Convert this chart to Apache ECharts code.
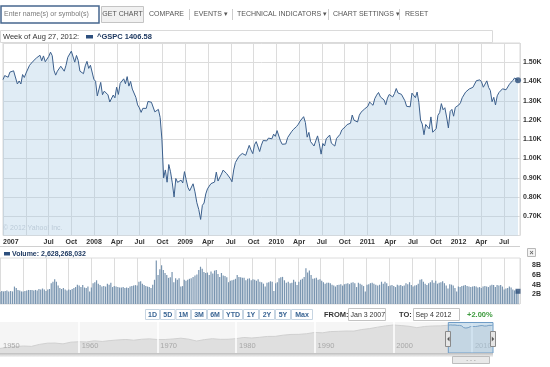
<!DOCTYPE html>
<html><head><meta charset="utf-8">
<script src="https://cdn.jsdelivr.net/npm/echarts@6/dist/echarts.min.js"></script>
<style>html,body{margin:0;padding:0;background:#fff;}#c{width:550px;height:367px;}</style>
</head><body><div id="c"></div>
<script>
// ---- DATA ----
const firstWeek = [2007, 0, 1]; // weekly points, week starting Mon Jan 1 2007
const close2007 = [1409.71,1430.73,1430.50,1422.18,1448.39,1438.06,1455.54,1451.19,1387.17,1402.84,1386.95,1436.11,1420.86,1443.76,1452.85,1484.35,1494.07,1505.62,1505.85,1522.75,1515.73,1536.34,1507.67,1532.91,1502.56,1503.35,1530.44,1552.50,1534.10,1458.95,1433.06,1453.64,1445.94,1479.37,1473.99,1453.55,1484.25,1525.75,1526.75,1557.59,1561.80,1500.63,1535.28,1509.65,1453.70,1458.74,1440.70,1481.14,1504.66,1467.95,1484.46,1478.49,1411.63];
const close2008 = [1401.02,1325.19,1330.61,1395.42,1331.29,1349.99,1353.11,1330.63,1293.37,1288.14,1329.51,1315.22,1370.40,1332.83,1390.33,1397.84,1413.90,1388.28,1425.35,1375.93,1400.38,1360.68,1360.03,1317.93,1278.38,1262.90,1239.49,1260.68,1257.76,1260.31,1296.32,1298.20,1292.20,1282.83,1242.31,1251.70,1255.08,1213.27,1099.23,899.22,940.55,876.77,968.75,930.99,873.29,800.03,896.24,876.07,879.73,887.88,872.80,931.80];
const close2009 = [890.35,850.12,831.95,825.88,868.60,826.84,770.05,735.09,683.38,756.55,768.54,815.94,842.50,856.56,869.60,866.23,877.52,929.23,882.88,887.00,919.14,940.09,946.21,921.23,918.90,896.42,879.13,940.38,979.26,987.48,1010.48,1004.09,1026.13,1028.93,1016.40,1042.73,1068.30,1044.38,1025.21,1071.49,1087.68,1079.60,1036.19,1069.30,1093.48,1091.38,1091.49,1105.98,1106.41,1102.47,1126.48,1115.10];
const close2010 = [1144.98,1136.03,1091.76,1073.87,1066.19,1075.51,1109.17,1104.49,1138.70,1149.99,1159.90,1166.59,1178.10,1194.37,1192.13,1217.28,1186.69,1110.88,1135.68,1087.69,1089.41,1064.88,1091.60,1117.51,1076.76,1022.58,1077.96,1064.88,1102.66,1101.60,1121.64,1079.25,1071.69,1064.59,1104.51,1109.55,1125.59,1148.67,1146.24,1165.15,1176.19,1183.08,1183.26,1225.85,1199.21,1199.73,1189.40,1224.71,1240.40,1243.91,1256.77,1257.64];
const close2011 = [1271.50,1293.24,1283.35,1276.34,1310.87,1329.15,1343.01,1319.88,1321.15,1304.28,1279.21,1313.80,1332.41,1328.17,1319.68,1337.38,1363.61,1340.20,1337.77,1333.27,1331.10,1300.16,1270.98,1271.50,1268.45,1339.67,1343.80,1316.14,1345.02,1292.28,1199.38,1178.81,1123.53,1176.80,1173.97,1154.23,1216.01,1136.43,1131.42,1155.46,1224.58,1238.25,1285.09,1253.23,1263.85,1215.65,1158.67,1244.28,1255.19,1219.66,1265.33,1257.60];
const close2012 = [1277.81,1289.09,1315.38,1316.33,1344.90,1342.64,1361.23,1365.74,1369.63,1370.87,1404.17,1397.11,1408.47,1398.08,1370.26,1378.53,1403.36,1369.10,1353.39,1295.22,1317.82,1278.04,1325.66,1342.84,1335.02,1362.16,1354.68,1356.78,1362.66,1385.97,1390.99,1405.87,1418.16,1411.13,1406.58];

// weekly volume, billions
const vol2007 = [2.5,2.7,2.6,2.7,2.8,2.6,2.7,2.6,3.6,3.3,2.9,2.8,2.6,2.6,2.7,2.8,2.9,2.9,2.9,2.8,2.9,2.8,3.1,3.0,3.2,3.0,2.7,3.0,3.1,4.3,4.6,5.1,4.6,3.8,3.3,3.1,3.3,3.0,2.8,3.0,2.9,3.1,3.3,3.5,4.0,3.8,3.5,3.9,3.4,3.3,3.6,2.6,3.4];
const vol2008 = [4.3,4.5,4.9,4.2,3.9,3.6,3.7,3.6,4.2,4.0,4.4,3.5,3.7,3.6,3.5,3.4,3.4,3.5,3.3,3.4,3.3,3.6,3.7,3.8,3.9,3.8,4.6,4.7,4.2,3.9,3.7,3.6,3.5,3.3,4.0,5.0,9.0,6.0,7.2,8.0,7.0,6.4,6.0,5.4,5.5,6.6,4.5,5.3,5.0,5.3,3.6,3.7];
const vol2009 = [5.0,4.8,5.0,5.2,5.3,5.6,5.9,6.1,7.0,7.7,7.3,6.6,6.4,6.5,6.0,6.7,6.3,6.9,7.0,6.2,5.6,6.4,5.9,5.8,5.5,4.5,4.8,4.9,5.0,5.2,6.0,5.6,5.5,5.4,5.4,4.9,5.2,5.3,4.9,5.1,5.0,4.8,5.1,4.6,4.5,4.2,3.6,4.4,4.5,4.7,4.6,2.7];
const vol2010 = [4.3,4.5,5.3,5.5,5.6,4.9,4.4,4.6,4.3,4.4,5.0,4.6,3.9,4.6,5.0,5.2,5.6,7.4,6.5,6.9,6.0,5.2,5.3,5.4,5.0,5.1,4.8,4.5,4.2,4.4,4.4,4.3,4.0,3.8,3.6,3.9,4.0,4.1,3.8,4.1,4.2,4.3,4.1,4.4,4.5,4.3,3.5,4.4,4.2,4.0,3.7,2.6];
const vol2011 = [4.0,4.1,4.3,4.4,4.2,4.0,3.8,4.0,4.6,4.2,4.6,4.3,3.7,3.8,3.9,3.7,3.5,4.0,3.8,3.9,3.7,3.8,4.3,4.1,4.5,3.9,3.6,3.8,3.9,4.2,5.0,5.1,4.6,4.2,3.9,4.3,4.5,4.9,4.4,4.8,4.2,4.4,4.5,4.7,4.3,3.8,3.2,4.1,4.0,3.8,3.3,2.6];
const vol2012 = [3.6,3.5,3.7,3.8,3.9,3.7,3.6,3.5,3.6,3.7,3.6,3.4,3.5,3.3,3.6,3.7,3.6,3.5,3.8,4.0,3.9,3.5,3.9,3.8,3.9,3.6,3.0,3.2,3.3,3.6,3.4,3.0,2.8,2.9,2.628268032];

// x-axis tick labels every quarter (months from Jan 2007)
const quarterLabels = ['2007','','Jul','Oct','2008','Apr','Jul','Oct','2009','Apr','Jul','Oct','2010','Apr','Jul','Oct','2011','Apr','Jul','Oct','2012','Apr','Jul'];
const priceTicks = [700,800,900,1000,1100,1200,1300,1400,1500];
const priceTickLabels = ['0.70K','0.80K','0.90K','1.00K','1.10K','1.20K','1.30K','1.40K','1.50K'];
const volTicks = [2,4,6,8];
const volTickLabels = ['2B','4B','6B','8B'];

// navigator: S&P 500 value at the start of each year 1950..2006
const navYears = [1950,1951,1952,1953,1954,1955,1956,1957,1958,1959,1960,1961,1962,1963,1964,1965,1966,1967,1968,1969,1970,1971,1972,1973,1974,1975,1976,1977,1978,1979,1980,1981,1982,1983,1984,1985,1986,1987,1988,1989,1990,1991,1992,1993,1994,1995,1996,1997,1998,1999,2000,2001,2002,2003,2004,2005,2006];
const navValues = [16.76,20.41,23.77,26.57,24.81,35.98,45.48,46.67,39.99,55.21,59.89,58.11,71.55,63.10,75.02,84.75,92.43,80.33,96.47,103.86,92.06,92.15,102.09,118.05,97.55,68.56,90.19,107.46,95.10,96.11,107.94,135.76,122.55,140.64,164.93,167.24,211.28,242.17,247.08,277.72,353.40,330.22,417.09,435.71,466.45,459.27,615.93,740.74,970.43,1229.23,1469.25,1320.28,1148.08,879.82,1111.92,1211.92,1248.29];
const navTickYears = [1950,1960,1970,1980,1990,2000,2010];
const periodButtons = ['1D','5D','1M','3M','6M','YTD','1Y','2Y','5Y','Max'];

// ---- BUILD ----
const closes = [].concat(close2007,close2008,close2009,close2010,close2011,close2012);
const vols = [].concat(vol2007,vol2008,vol2009,vol2010,vol2011,vol2012);
const weekX = [];
const t0 = Date.UTC(firstWeek[0], firstWeek[1], firstWeek[2]);
for (let i = 0; i < closes.length; i++) {
  const d = new Date(t0 + i * 7 * 864e5);
  const y = d.getUTCFullYear(), m = d.getUTCMonth(), day = d.getUTCDate();
  const dim = new Date(Date.UTC(y, m + 1, 0)).getUTCDate();
  weekX.push((y - 2007) * 12 + m + (day - 1) / dim);
}
const X_MAX = 68 + 3 / 30; // Sep 4 2012
const NAV_MAX = 2012.68;
const last = closes.length - 1;
const F = '"Liberation Sans", Arial, sans-serif';
const lbl = {color:'#333', fontWeight:'bold', fontSize:7, fontFamily:F};

const navData = navYears.map((y,i)=>[y, navValues[i]]).concat(closes.map((v,i)=>[2007 + weekX[i]/12, v]));
const navSel = closes.map((v,i)=>[2007 + weekX[i]/12, v]);

const chart = echarts.init(document.getElementById('c'));
chart.setOption({
  animation:false,
  grid:[
    {left:0, top:43, width:520, height:192.5, show:true, borderColor:'#d8d8d8', borderWidth:1},
    {left:0, top:258, width:520, height:46, show:true, borderColor:'#dcdcdc', borderWidth:1},
    {left:0, top:322, width:493, height:31, show:true, backgroundColor:'#f5f5f5', borderWidth:0}
  ],
  xAxis:[
    {gridIndex:0, type:'value', min:0, max:X_MAX, interval:3,
     axisLine:{show:false}, axisTick:{show:false},
     splitLine:{show:true, lineStyle:{color:'#dcdcdc', width:1}},
     axisLabel:Object.assign({margin:3, alignMinLabel:'left', showMaxLabel:false,
       formatter:v=>{const q=Math.round(v/3); return Math.abs(v/3-q)<0.01 ? (quarterLabels[q]||'') : '';}}, lbl)},
    {gridIndex:1, type:'value', min:0, max:X_MAX, interval:3,
     axisLine:{show:false}, axisTick:{show:false}, axisLabel:{show:false},
     splitLine:{show:true, lineStyle:{color:'#dcdcdc'}}},
    {gridIndex:2, type:'value', min:1950, max:NAV_MAX, interval:10, z:10,
     axisLine:{show:false}, axisTick:{show:false}, splitLine:{show:false},
     axisLabel:{inside:true, margin:3, align:'left', padding:[0,0,0,3], color:'#a8a8a8', fontSize:7.5, fontFamily:F,
       formatter:v=>navTickYears.indexOf(Math.round(v))>=0 && Math.abs(v-Math.round(v))<0.01 ? String(Math.round(v)) : ''}}
  ],
  yAxis:[
    {gridIndex:0, type:'value', position:'right', min:600, max:1600, interval:100,
     axisLine:{show:false}, axisTick:{show:false},
     splitLine:{show:true, lineStyle:{color:'#dcdcdc'}},
     axisLabel:Object.assign({margin:3, formatter:v=>{const k=priceTicks.indexOf(Math.round(v)); return k>=0?priceTickLabels[k]:'';}}, lbl)},
    {gridIndex:1, type:'value', position:'right', min:0, max:9.5, interval:2,
     axisLine:{show:false}, axisTick:{show:false}, splitLine:{show:false},
     axisLabel:Object.assign({margin:12, formatter:v=>{const k=volTicks.indexOf(Math.round(v*100)/100); return k>=0?volTickLabels[k]:'';}}, lbl)},
    {gridIndex:2, type:'log', logBase:10, min:7, max:2600, axisLine:{show:false}, axisTick:{show:false}, axisLabel:{show:false}, splitLine:{show:false}}
  ],
  series:[
    {type:'line', xAxisIndex:0, yAxisIndex:0, data:closes.map((v,i)=>[weekX[i], v]),
     symbol:'none', lineStyle:{color:'#3b5f8c', width:1}, areaStyle:{color:'rgba(168,202,228,0.5)', origin:'start'}, z:3},
    {type:'scatter', xAxisIndex:0, yAxisIndex:0, data:[[weekX[last], closes[last]]], symbolSize:6, itemStyle:{color:'#2b4c78'}, z:5},
    {type:'bar', xAxisIndex:1, yAxisIndex:1, data:vols.map((v,i)=>[weekX[i], v]), barWidth:1.2, itemStyle:{color:'#7995b0'}},
    {type:'scatter', xAxisIndex:1, yAxisIndex:1, data:[[weekX[last], vols[last]]], symbol:'rect', symbolSize:5, itemStyle:{color:'#2b4c78'}, z:5},
    {type:'line', xAxisIndex:2, yAxisIndex:2, data:navData, symbol:'none',
     lineStyle:{color:'#d0d0d0', width:1}, areaStyle:{color:'#dfdfdf', opacity:1, origin:'start'},
     markLine:{silent:true, symbol:'none', label:{show:false}, lineStyle:{color:'#ffffff', width:1.5, type:'solid'},
       data:navTickYears.slice(1).map(y=>({xAxis:y}))}},
    {type:'line', xAxisIndex:2, yAxisIndex:2, data:navSel, symbol:'none', z:4,
     lineStyle:{color:'#4a78a8', width:1}}
  ]
});

// ---- UI chrome (text + boxes) ----
const g = [];
const txt = (x,y,s,o)=>g.push({type:'text', x, y, z:20, style:Object.assign({text:s, fill:'#555', font:'7px '+F, textVerticalAlign:'middle'}, o||{})});
const rect = (x,y,w,h,fill,stroke,lw,z)=>g.push({type:'rect', z:z||20, shape:{x,y,width:w,height:h}, style:{fill, stroke, lineWidth:lw||1}});
const vline = (x,y1,y2,c)=>g.push({type:'line', z:20, shape:{x1:x,y1,x2:x,y2}, style:{stroke:c||'#ccc', lineWidth:1}});
const hline = (y,x1,x2,c)=>g.push({type:'line', z:20, shape:{x1,y1:y,x2,y2:y}, style:{stroke:c||'#ccc', lineWidth:1}});

// toolbar
rect(1,6,98,17,'#fff','#47678f',1.5);
txt(4,14.5,'Enter name(s) or symbol(s)',{fill:'#7a7a7a'});
rect(101.5,6.5,42,16,'#f1f1f1','#c4c4c4');
txt(122.5,14.5,'GET CHART',{textAlign:'center', fill:'#555'});
txt(149,14.5,'COMPARE');
vline(189.5,9,20); txt(194,14.5,'EVENTS \u25BE');
vline(232.5,9,20); txt(237,14.5,'TECHNICAL INDICATORS \u25BE');
vline(328.5,9,20); txt(333,14.5,'CHART SETTINGS \u25BE');
vline(399.5,9,20); txt(405,14.5,'RESET');

// header of price panel
rect(0.5,30.5,492,12,'#fff','#dadada');
txt(3,36.8,'Week of Aug 27, 2012:',{fill:'#333', font:'7.5px '+F});
rect(86,35,7,3.5,'#2d4f7e',null,0);
txt(97,36.8,'^GSPC ' + closes[last].toFixed(2),{fill:'#1f3a62', font:'bold 7.5px '+F});
txt(3,228,'\u00A9 2012 Yahoo! Inc.',{fill:'#bccbd8', font:'7px '+F});

// separator + volume header
hline(246.5,0,520,'#d0d0d0');
rect(4,252,6,3.5,'#2d4f7e',null,0);
txt(12,254,'Volume: ' + Math.round(vols[last]*1e9).toLocaleString('en-US'),{fill:'#1f3a62', font:'bold 7px '+F});
rect(527.5,248.5,8,8,'#f4f4f4','#b8b8b8');
txt(531.5,252.7,'\u00D7',{textAlign:'center', fill:'#666', font:'bold 7px '+F});

// period buttons
const btnEdges = [145,160,175.5,191,207,223,243,259,275,291,313];
periodButtons.forEach((b,i)=>{
  rect(btnEdges[i]+0.5,309.5,btnEdges[i+1]-btnEdges[i]-1,10,'#fff','#c7d5e2');
  txt((btnEdges[i]+btnEdges[i+1])/2,314.7,b,{textAlign:'center', fill:'#3a6594', font:'bold 7px '+F});
});
txt(324,314.7,'FROM:',{fill:'#333', font:'bold 7.5px '+F});
rect(348.5,308.5,37,12,'#fff','#c4c4c4');
txt(350.5,314.7,'Jan 3 2007',{fill:'#333', font:'7px '+F});
txt(399,314.7,'TO:',{fill:'#333', font:'bold 7.5px '+F});
rect(413.5,308.5,46,12,'#fff','#c4c4c4');
txt(415.5,314.7,'Sep 4 2012',{fill:'#333', font:'7px '+F});
txt(467,314.7,'+2.00%',{fill:'#3c9a3c', font:'bold 7.5px '+F});

// navigator shadow and scrollbar grip
g.push({type:'rect', z:20, shape:{x:0,y:353,width:493,height:4}, style:{fill:new echarts.graphic.LinearGradient(0,0,0,1,[{offset:0,color:'#bdbdbd'},{offset:1,color:'#f4f4f4'}])}});
rect(452.5,356.5,37,7,'#e9e9e9','#bdbdbd');
txt(471,360.2,'- - -',{textAlign:'center', fill:'#999', font:'6px '+F});

// selection window + handles (positions through the navigator axis scale)
const xl = chart.convertToPixel({xAxisIndex:2}, navSel[0][0]);
const xr = chart.convertToPixel({xAxisIndex:2}, NAV_MAX);
g.push({type:'rect', z:15, shape:{x:xl, y:322.5, width:xr-xl, height:30.5}, style:{fill:'rgba(170,205,232,0.5)', stroke:'#6f9cc6', lineWidth:1}});
[xl, xr].forEach((x,i)=>{
  rect(Math.round(x)-2.5,331.5,5,15,'#e6e6e6','#8a8a8a');
  g.push({type:'polygon', z:21, shape:{points: i===0 ? [[x+1.2,336.5],[x+1.2,341.5],[x-1.2,339]] : [[x-1.2,336.5],[x-1.2,341.5],[x+1.2,339]]}, style:{fill:'#555'}});
});

chart.setOption({graphic:g});
</script></body></html>
